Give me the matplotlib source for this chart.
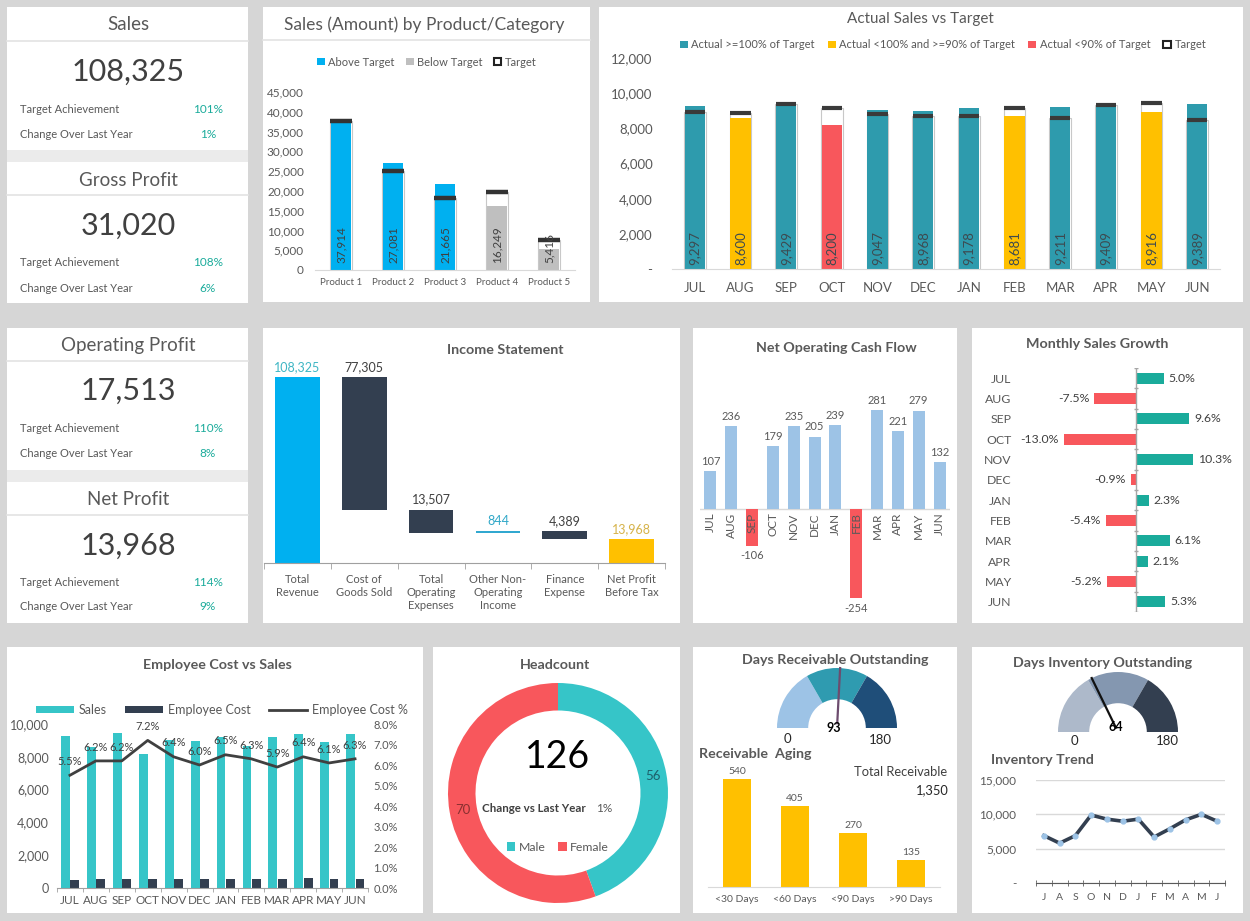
import matplotlib
matplotlib.use('Agg')
import matplotlib.pyplot as plt
from matplotlib.patches import Rectangle, Wedge, Patch
from matplotlib.lines import Line2D
from matplotlib.ticker import FuncFormatter
import numpy as np

plt.rcParams['font.family'] = ['Lato', 'DejaVu Sans']

# ---------------- data ----------------
kpi_names = ['Sales', 'Gross Profit', 'Operating Profit', 'Net Profit']
kpi_values = [108325, 31020, 17513, 13968]
kpi_target_ach = ['101%', '108%', '110%', '114%']
kpi_change = ['1%', '6%', '8%', '9%']

products = ['Product 1', 'Product 2', 'Product 3', 'Product 4', 'Product 5']
product_sales = [37914, 27081, 21665, 16249, 5416]
product_target = [37700, 25000, 18300, 19700, 7600]

months = ['JUL', 'AUG', 'SEP', 'OCT', 'NOV', 'DEC', 'JAN', 'FEB', 'MAR', 'APR', 'MAY', 'JUN']
monthly_sales = [9297, 8600, 9429, 8200, 9047, 8968, 9178, 8681, 9211, 9409, 8916, 9389]
monthly_target = [8950, 8870, 9360, 9140, 8830, 8680, 8680, 9140, 8610, 9350, 9420, 8470]

is_labels = ['Total\nRevenue', 'Cost of\nGoods Sold', 'Total\nOperating\nExpenses',
             'Other Non-\nOperating\nIncome', 'Finance\nExpense', 'Net Profit\nBefore Tax']
is_values = [108325, 77305, 13507, 844, 4389, 13968]

cash_flow = [107, 236, -106, 179, 235, 205, 239, -254, 281, 221, 279, 132]
sales_growth = [5.0, -7.5, 9.6, -13.0, 10.3, -0.9, 2.3, -5.4, 6.1, 2.1, -5.2, 5.3]

employee_cost = [470, 530, 540, 540, 540, 530, 540, 530, 540, 610, 530, 540]
employee_cost_pct = [5.5, 6.2, 6.2, 7.2, 6.4, 6.0, 6.5, 6.3, 5.9, 6.4, 6.1, 6.3]

headcount_labels = ['Male', 'Female']
headcount = [56, 70]
headcount_change = '1%'

gauge_bounds = [0, 60, 120, 180]
dro_value = 93
dio_value = 64

aging_labels = ['<30 Days', '<60 Days', '<90 Days', '>90 Days']
aging = [540, 405, 270, 135]

inv_labels = ['J', 'A', 'S', 'O', 'N', 'D', 'J', 'F', 'M', 'A', 'M', 'J']
inventory = [6900, 5800, 6900, 9900, 9300, 9000, 9300, 6700, 7900, 9200, 10000, 9000]

# ---------------- colours ----------------
GRAY_TXT = '#595959'
DARK_TXT = '#404040'
BLUE = '#00b0f0'
TEAL = '#2e9bad'
YELLOW = '#ffc000'
RED = '#f8575c'
NAVY = '#333f50'
CYAN = '#36c5c8'
LBLUE = '#9dc3e6'
GREEN = '#1aab9b'
LINE_GRAY = '#d9d9d9'
TITLE_FS = 10.3

W, H = 1250, 921
fig = plt.figure(figsize=(W / 100, H / 100), dpi=100)
fig.patch.set_facecolor('#d6d6d6')


def axpx(x0, y0, x1, y1):
    ax = fig.add_axes([x0 / W, 1 - y1 / H, (x1 - x0) / W, (y1 - y0) / H])
    ax.set_facecolor('none')
    return ax


def txt(x, y, s, **kw):
    kw.setdefault('ha', 'center')
    kw.setdefault('va', 'center')
    return fig.text(x / W, 1 - y / H, s, **kw)


def rect(x0, y0, x1, y1, color='white'):
    fig.patches.append(Rectangle((x0 / W, 1 - y1 / H), (x1 - x0) / W, (y1 - y0) / H,
                                 transform=fig.transFigure, facecolor=color,
                                 edgecolor='none', zorder=-5))


def hline(x0, x1, y, color=LINE_GRAY, lw=1):
    fig.add_artist(Line2D([x0 / W, x1 / W], [1 - y / H, 1 - y / H], color=color, lw=lw,
                          transform=fig.transFigure, zorder=-4))


def clean(ax, keep=('bottom',)):
    for s in ax.spines:
        ax.spines[s].set_visible(s in keep)
    for s in keep:
        ax.spines[s].set_color(LINE_GRAY)


# ---------------- panels ----------------
panels = [(7, 7, 248, 150), (7, 162, 248, 303), (7, 328, 248, 470), (7, 482, 248, 623),
          (263, 7, 590, 302), (599, 7, 1243, 302),
          (263, 328, 680, 623), (693, 328, 957, 623), (972, 328, 1243, 623),
          (7, 647, 423, 913), (433, 647, 680, 913), (693, 647, 957, 913), (972, 647, 1243, 913)]
for p in panels:
    rect(*p)
rect(7, 150, 248, 162, '#ebebeb')
rect(7, 470, 248, 482, '#ebebeb')

# ---------------- KPI cards ----------------
kpi_rows = [(25, 41, 72, 109, 134), (180, 195, 226, 263, 288),
            (345, 361, 391, 428, 453), (499, 515, 546, 582, 607)]
for name, val, ta, ch, (yt, yd, yv, y1, y2) in zip(kpi_names, kpi_values, kpi_target_ach,
                                                     kpi_change, kpi_rows):
    txt(128, yt, name, fontsize=13.5, color=GRAY_TXT)
    hline(7, 248, yd, color='#e3e3e3', lw=1.2)
    txt(128, yv, f'{val:,}', fontsize=22, color=DARK_TXT)
    txt(20, y1, 'Target Achievement', ha='left', fontsize=8, color=GRAY_TXT)
    txt(20, y2, 'Change Over Last Year', ha='left', fontsize=8, color=GRAY_TXT)
    txt(208, y1, ta, fontsize=8.5, color=GREEN)
    txt(208, y2, ch, fontsize=8.5, color=GREEN)

# ---------------- Sales by product ----------------
txt(424, 25, 'Sales (Amount) by Product/Category', fontsize=12.5, color=GRAY_TXT)
hline(263, 590, 40, color='#e3e3e3', lw=1.2)
ax = axpx(315, 92, 575, 270)
x = np.arange(len(products))
ax.bar(x, product_target, width=0.44, color='white', edgecolor='#c8c8c8', lw=0.8, zorder=1)
pcol = [BLUE if s >= t else '#bfbfbf' for s, t in zip(product_sales, product_target)]
ax.bar(x, product_sales, width=0.4, color=pcol, zorder=2)
ax.hlines(product_target, x - 0.21, x + 0.21, color='#333333', lw=3.2, zorder=3)
for xi, v in zip(x, product_sales):
    ax.text(xi, 1800, f'{v:,}', rotation=90, ha='center', va='bottom', fontsize=8.5,
            color=DARK_TXT, zorder=4)
ax.set_xlim(-0.5, 4.5)
ax.set_ylim(0, 45000)
ax.set_yticks(range(0, 45001, 5000))
ax.yaxis.set_major_formatter(FuncFormatter(lambda v, p: f'{v:,.0f}'))
ax.set_xticks(x)
ax.set_xticklabels(products)
ax.tick_params(axis='y', length=0, labelsize=8.5, labelcolor=GRAY_TXT, pad=8)
ax.tick_params(axis='x', length=0, labelsize=7, labelcolor=GRAY_TXT, pad=6)
clean(ax)
leg_h = [Patch(facecolor=BLUE), Patch(facecolor='#bfbfbf'),
         Patch(facecolor='white', edgecolor='#222222', lw=1.5)]
ax.legend(leg_h, ['Above Target', 'Below Target', 'Target'], loc='center',
          bbox_to_anchor=(0.43, 1 + 30 / 178), ncol=3, frameon=False, fontsize=8,
          handlelength=0.7, handleheight=0.7, handletextpad=0.3, columnspacing=1.0,
          labelcolor=GRAY_TXT)

# ---------------- Actual vs Target ----------------
txt(920, 19, 'Actual Sales vs Target', fontsize=11, color=GRAY_TXT)
ax = axpx(672, 58, 1220, 269)
x = np.arange(len(months))
ratio = [s / t for s, t in zip(monthly_sales, monthly_target)]
mcol = [TEAL if r >= 1 else (YELLOW if r >= 0.9 else RED) for r in ratio]
ax.bar(x, monthly_target, width=0.48, color='white', edgecolor='#c8c8c8', lw=0.8, zorder=1)
ax.bar(x, monthly_sales, width=0.44, color=mcol, zorder=2)
ax.hlines(monthly_target, x - 0.22, x + 0.22, color='#3a3a3a', lw=3, zorder=3)
for xi, v in zip(x, monthly_sales):
    ax.text(xi, 250, f'{v:,}', rotation=90, ha='center', va='bottom', fontsize=9.5,
            color='#3d4a50', zorder=4)
ax.set_xlim(-0.5, 11.5)
ax.set_ylim(0, 12000)
ax.set_yticks(range(0, 12001, 2000))
ax.yaxis.set_major_formatter(FuncFormatter(lambda v, p: '-' if v == 0 else f'{v:,.0f}'))
ax.set_xticks(x)
ax.set_xticklabels(months)
ax.tick_params(axis='y', length=0, labelsize=9.5, labelcolor=GRAY_TXT, pad=14)
ax.tick_params(axis='x', length=0, labelsize=9.5, labelcolor=GRAY_TXT, pad=9)
clean(ax)
leg_h = [Patch(facecolor=TEAL), Patch(facecolor=YELLOW), Patch(facecolor=RED),
         Patch(facecolor='white', edgecolor='#222222', lw=1.5)]
ax.legend(leg_h, ['Actual >=100% of Target', 'Actual <100% and >=90% of Target',
                  'Actual <90% of Target', 'Target'], loc='center',
          bbox_to_anchor=(0.495, 1 + 13 / 211), ncol=4, frameon=False, fontsize=8,
          handlelength=0.7, handleheight=0.7, handletextpad=0.3, columnspacing=1.2,
          labelcolor=GRAY_TXT)

# ---------------- Income statement ----------------
txt(505, 350, 'Income Statement', fontsize=TITLE_FS, fontweight='bold', color=GRAY_TXT)
ax = axpx(264, 340, 665, 563)
rev, cogs, opex, other, fin, npbt = is_values
is_bottom = [0, rev - cogs, rev - cogs - opex, rev - cogs - opex,
             rev - cogs - opex + other - fin, 0]
is_colors = [BLUE, NAVY, NAVY, '#31a8d0', NAVY, YELLOW]
is_lblcol = ['#3fb6c4', DARK_TXT, DARK_TXT, '#31a8c8', DARK_TXT, '#d6b34a']
x = np.arange(len(is_values))
ax.bar(x, is_values, bottom=is_bottom, width=0.67, color=is_colors)
for xi, b, v, c in zip(x, is_bottom, is_values, is_lblcol):
    ax.text(xi, b + v + 2500, f'{v:,}', ha='center', va='bottom', fontsize=9, color=c)
ax.set_xlim(-0.5, 5.5)
ax.set_ylim(0, 129900)
ax.set_yticks([])
ax.set_xticks(x)
ax.set_xticklabels(is_labels, va='top')
ax.set_xticks(np.arange(-0.5, 6, 1), minor=True)
ax.tick_params(axis='x', which='major', length=0, labelsize=8, labelcolor=GRAY_TXT, pad=8)
ax.tick_params(axis='x', which='minor', length=4, color='#a0a0a0')
clean(ax)
ax.spines['bottom'].set_color('#a0a0a0')

# ---------------- Net operating cash flow ----------------
txt(836, 348, 'Net Operating Cash Flow', fontsize=TITLE_FS, fontweight='bold', color=GRAY_TXT)
ax = axpx(700, 380, 950, 610)
x = np.arange(len(months))
ccol = [LBLUE if v >= 0 else RED for v in cash_flow]
ax.bar(x, cash_flow, width=0.58, color=ccol, zorder=1)
ax.axhline(0, color=LINE_GRAY, lw=1, zorder=0)
for xi, v, m in zip(x, cash_flow, months):
    ax.text(xi, -10, m, rotation=90, ha='center', va='top', fontsize=8.5, color=GRAY_TXT,
            zorder=3)
    if v >= 0:
        ax.text(xi, v + 12, f'{v}', ha='center', va='bottom', fontsize=8, color=GRAY_TXT)
    else:
        ax.text(xi, v - 12, f'{v}', ha='center', va='top', fontsize=8, color=GRAY_TXT)
ax.set_xlim(-0.5, 11.5)
ax.set_ylim(-287, 366)
ax.set_xticks([])
ax.set_yticks([])
clean(ax, keep=())

# ---------------- Monthly sales growth ----------------
txt(1097, 344, 'Monthly Sales Growth', fontsize=TITLE_FS, fontweight='bold', color=GRAY_TXT)
ax = axpx(1020, 368, 1238, 612)
y = np.arange(len(months))
gcol = [GREEN if v >= 0 else RED for v in sales_growth]
ax.barh(y, sales_growth, height=0.55, color=gcol, zorder=2)
ax.axvline(0, color='#a6a6a6', lw=1, zorder=3)
ax.hlines(np.arange(-0.5, 12, 1), -0.35, 0.35, color='#a6a6a6', lw=1, zorder=3)
for yi, v in zip(y, sales_growth):
    if v >= 0:
        ax.text(v + 0.9, yi, f'{v:.1f}%', ha='left', va='center', fontsize=8.8, color=DARK_TXT)
    else:
        ax.text(v - 0.9, yi, f'{v:.1f}%', ha='right', va='center', fontsize=8.8, color=DARK_TXT)
ax.set_xlim(-20.9, 18.4)
ax.set_ylim(11.5, -0.5)
ax.set_yticks(y)
ax.set_yticklabels(months)
ax.set_xticks([])
ax.tick_params(axis='y', length=0, labelsize=8.8, labelcolor=GRAY_TXT, pad=6)
clean(ax, keep=())

# ---------------- Employee cost vs sales ----------------
txt(217, 665, 'Employee Cost vs Sales', fontsize=TITLE_FS, fontweight='bold', color=GRAY_TXT)
ax = axpx(57, 724, 368, 888)
x = np.arange(len(months))
ax.bar(x - 0.17, monthly_sales, width=0.34, color=CYAN, zorder=1)
ax.bar(x + 0.19, employee_cost, width=0.34, color=NAVY, zorder=1)
ax.set_xlim(-0.5, 11.5)
ax.set_ylim(0, 10000)
ax.set_yticks(range(0, 10001, 2000))
ax.yaxis.set_major_formatter(FuncFormatter(lambda v, p: f'{v:,.0f}'))
ax.set_xticks(x)
ax.set_xticklabels(months)
ax.set_xticks(np.arange(-0.5, 12, 1), minor=True)
ax.tick_params(axis='y', length=0, labelsize=9, labelcolor=GRAY_TXT, pad=6)
ax.tick_params(axis='x', which='major', length=0, labelsize=8.5, labelcolor=GRAY_TXT, pad=5)
ax.tick_params(axis='x', which='minor', length=3, color='#a0a0a0')
clean(ax)
ax.spines['bottom'].set_color('#a0a0a0')
ax2 = ax.twinx()
ax2.set_facecolor('none')
ax2.plot(x, employee_cost_pct, color='#404040', lw=2, zorder=3)
for xi, v in zip(x, employee_cost_pct):
    ax2.annotate(f'{v:.1f}%', (xi, v), xytext=(0, 6), textcoords='offset points',
                 ha='center', va='bottom', fontsize=8, color=DARK_TXT)
ax2.set_ylim(0, 8)
ax2.set_yticks(range(0, 9))
ax2.yaxis.set_major_formatter(FuncFormatter(lambda v, p: f'{v:.1f}%'))
ax2.tick_params(axis='y', length=0, labelsize=8, labelcolor=GRAY_TXT, pad=4)
clean(ax2, keep=())
leg_h = [Patch(facecolor=CYAN), Patch(facecolor=NAVY), Line2D([], [], color='#404040', lw=2)]
ax.legend(leg_h, ['Sales', 'Employee Cost', 'Employee Cost %'], loc='center',
          bbox_to_anchor=(0.53, 1 + 14 / 164), ncol=3, frameon=False, fontsize=9,
          handlelength=3.0, handleheight=0.5, handletextpad=0.4, columnspacing=1.5,
          labelcolor=GRAY_TXT)

# ---------------- Headcount ----------------
txt(555, 665, 'Headcount', fontsize=TITLE_FS, fontweight='bold', color=GRAY_TXT)
ax = axpx(448, 683, 668, 903)
ax.pie(headcount, colors=[CYAN, RED], startangle=90, counterclock=False, radius=1,
       wedgeprops=dict(width=0.25, edgecolor='none'))
ax.set_xlim(-1, 1)
ax.set_ylim(-1, 1)
angles = np.cumsum([0] + headcount)
for i, (v, c) in enumerate(zip(headcount, ['#1d5f6a', '#8a3030'])):
    mid = np.deg2rad(90 - 360 * (angles[i] + v / 2) / sum(headcount))
    ax.text(0.875 * np.cos(mid), 0.875 * np.sin(mid), f'{v}', ha='center', va='center',
            fontsize=9.5, color=c)
txt(558, 757, f'{sum(headcount)}', fontsize=27, color='black')
txt(534, 808, 'Change vs Last Year', fontsize=8.3, fontweight='bold', color=DARK_TXT)
txt(604, 808, headcount_change, fontsize=8.5, color=GRAY_TXT)
ax.legend([Patch(facecolor=CYAN), Patch(facecolor=RED)], headcount_labels, loc='center',
          bbox_to_anchor=(0.5, (903 - 847) / 220), ncol=2, frameon=False, fontsize=8.8,
          handlelength=0.7, handleheight=0.7, handletextpad=0.3, columnspacing=1.0,
          labelcolor=GRAY_TXT)


# ---------------- gauges ----------------
def gauge(cx, cy, value, colors, needle_color, vlabel_off, zero_pos, max_pos):
    ax = axpx(cx - 78, cy - 69, cx + 78, cy + 21)
    ax.set_xlim(-1.3, 1.3)
    ax.set_ylim(-0.35, 1.15)
    ax.axis('off')
    for b0, b1, c in zip(gauge_bounds[:-1], gauge_bounds[1:], colors):
        ax.add_patch(Wedge((0, 0), 1, 180 - b1, 180 - b0, width=0.52, facecolor=c,
                           edgecolor='none'))
    a = np.deg2rad(180 - value)
    ax.plot([0.08 * np.cos(a), 1.0 * np.cos(a)], [0.08 * np.sin(a), 1.0 * np.sin(a)],
            color=needle_color, lw=1.6)
    ax.text(vlabel_off[0], vlabel_off[1], f'{value}', ha='center', va='center', fontsize=9,
            fontweight='bold', color='black')
    ax.text(zero_pos[0], zero_pos[1], f'{gauge_bounds[0]}', ha='center', va='center',
            fontsize=9.5, color='#262626')
    ax.text(max_pos[0], max_pos[1], f'{gauge_bounds[-1]}', ha='center', va='center',
            fontsize=9.5, color='#262626')


txt(835, 660, 'Days Receivable Outstanding', fontsize=TITLE_FS, fontweight='bold',
    color=GRAY_TXT)
gauge(837, 728, dro_value, [LBLUE, '#2f9bb0', '#1f4e79'], '#6d4c6e',
      (-0.05, 0.0), (-0.83, -0.18), (0.72, -0.2))

txt(1103, 663, 'Days Inventory Outstanding', fontsize=TITLE_FS, fontweight='bold',
    color=GRAY_TXT)
gauge(1118, 732, dio_value, ['#adb9ca', '#8497b0', NAVY], '#111111',
      (-0.03, 0.08), (-0.73, -0.15), (0.82, -0.15))

# ---------------- Receivable aging ----------------
txt(755, 754, 'Receivable  Aging', fontsize=TITLE_FS, fontweight='bold', color=GRAY_TXT)
txt(901, 772, 'Total Receivable', fontsize=9.3, color=DARK_TXT)
txt(949, 790, f'{sum(aging):,}', ha='right', fontsize=9.3, color='#262626')
ax = axpx(708, 770, 940, 887)
x = np.arange(len(aging))
ax.bar(x, aging, width=0.48, color=YELLOW)
for xi, v in zip(x, aging):
    ax.text(xi, v + 15, f'{v}', ha='center', va='bottom', fontsize=7.5, color=GRAY_TXT)
ax.set_xlim(-0.5, 3.5)
ax.set_ylim(0, 585)
ax.set_yticks([])
ax.set_xticks(x)
ax.set_xticklabels(aging_labels)
ax.tick_params(axis='x', length=0, labelsize=7.5, labelcolor=GRAY_TXT, pad=6)
clean(ax)

# ---------------- Inventory trend ----------------
txt(1042, 760, 'Inventory Trend', fontsize=TITLE_FS, fontweight='bold', color=GRAY_TXT)
ax = axpx(1036, 780, 1225, 883)
x = np.arange(len(inventory))
ax.plot(x, inventory, color=NAVY, lw=2.6, marker='o', markersize=3.5,
        markerfacecolor=LBLUE, markeredgecolor=LBLUE, zorder=3)
ax.set_xlim(-0.5, 11.5)
ax.set_ylim(0, 15000)
ax.set_yticks(range(0, 15001, 5000))
ax.yaxis.set_major_formatter(FuncFormatter(lambda v, p: '-' if v == 0 else f'{v:,.0f}'))
ax.grid(axis='y', color=LINE_GRAY, lw=1)
ax.set_axisbelow(True)
ax.set_xticks(x)
ax.set_xticklabels(inv_labels)
ax.set_xticks(np.arange(-0.5, 12, 1), minor=True)
ax.tick_params(axis='y', length=0, labelsize=8.5, labelcolor=GRAY_TXT, pad=14)
ax.tick_params(axis='x', which='major', length=0, labelsize=7.5, labelcolor=GRAY_TXT, pad=7)
ax.tick_params(axis='x', which='minor', length=4, direction='inout', color='#595959')
clean(ax)
ax.spines['bottom'].set_color('#595959')

fig.savefig('out.png', dpi=100, facecolor=fig.get_facecolor())
